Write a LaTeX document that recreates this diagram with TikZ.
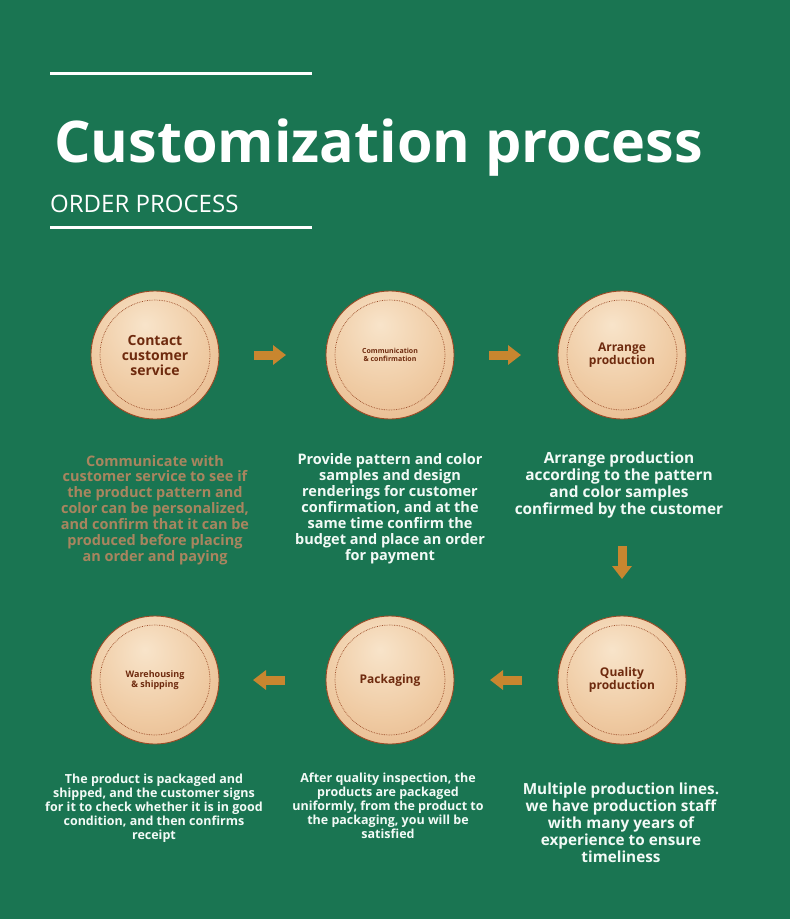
\documentclass[tikz,border=0pt]{standalone}
\usepackage{fontspec}
\setmainfont{Open Sans}
\usetikzlibrary{arrows.meta,calc}
\definecolor{bg}{HTML}{1A7552}
\definecolor{coinedge}{HTML}{9A4A26}
\definecolor{coinlbl}{HTML}{6E2A0E}
\definecolor{arr}{HTML}{C8862F}
\definecolor{tan}{HTML}{A8855F}
\definecolor{wtxt}{HTML}{F2FAF6}
\pgfdeclareradialshading{coinshade}{\pgfpoint{-4bp}{12bp}}{%
  color(0bp)=(rgb,255:red,248;green,228;blue,202);
  color(24bp)=(rgb,255:red,239;green,202;blue,162);
  color(42bp)=(rgb,255:red,229;green,180;blue,136);
  color(50bp)=(rgb,255:red,212;green,152;blue,108);
  color(62bp)=(rgb,255:red,205;green,144;blue,100);
  color(80bp)=(rgb,255:red,205;green,144;blue,100)}
\tikzset{
  coin/.style={circle, minimum size=128pt, inner sep=0pt, draw=coinedge, line width=0.9pt,
    shading=coinshade, text=coinlbl, font=\bfseries, align=center},
  ring/.style={draw=coinedge, densely dotted, line width=0.7pt},
  flow/.style={draw=arr, line width=9pt, -{Triangle[length=13pt,width=19pt]}},
  desc/.style={align=center, font=\bfseries, text=wtxt, inner sep=0pt},
}
\begin{document}
\begin{tikzpicture}[x=1pt,y=-1pt]
\fill[bg] (0,0) rectangle (790,919);
\useasboundingbox (0,0) rectangle (790,919);
% header
\coordinate (l1a) at (50,73); \coordinate (l1b) at (312,73);
\coordinate (l2a) at (50,227); \coordinate (l2b) at (312,227);
\draw[white, line width=3pt] (l1a) -- (l1b);
\draw[white, line width=3pt] (l2a) -- (l2b);
\node[anchor=base west, text=white, inner sep=0pt, font=\fontsize{57.5}{60}\selectfont\bfseries] (title) at (54,162) {Customization process};
\node[anchor=base west, text=white, inner sep=0pt, font=\fontsize{24}{26}\selectfont] (sub) at (50,212) {ORDER PROCESS};
% coins
\node[coin, font=\fontsize{14}{15}\selectfont\bfseries] (c1) at (155,355) {Contact\\customer\\service};
\node[coin, font=\fontsize{7}{8}\selectfont\bfseries] (c2) at (390,355) {Communication\\\& confirmation};
\node[coin, font=\fontsize{12}{13}\selectfont\bfseries] (c3) at (622,355) {Arrange\\production};
\node[coin, font=\fontsize{12}{13}\selectfont\bfseries] (c4) at (622,680) {Quality\\production};
\node[coin, font=\fontsize{12}{13}\selectfont\bfseries] (c5) at (390,680) {Packaging};
\node[coin, font=\fontsize{9}{10}\selectfont\bfseries] (c6) at (155,680) {Warehousing\\\& shipping};
\foreach \c in {c1,c2,c3,c4,c5,c6} \draw[ring] (\c.center) circle[radius=55pt];
% arrows
\coordinate (a1s) at (254,355); \coordinate (a1e) at (286,355);
\coordinate (a2s) at (489,355); \coordinate (a2e) at (521,355);
\coordinate (a3s) at (622,546); \coordinate (a3e) at (622,579);
\coordinate (a4s) at (522,680); \coordinate (a4e) at (490,680);
\coordinate (a5s) at (285,680); \coordinate (a5e) at (253,680);
\draw[flow] (a1s) -- (a1e);
\draw[flow] (a2s) -- (a2e);
\draw[flow] (a3s) -- (a3e);
\draw[flow] (a4s) -- (a4e);
\draw[flow] (a5s) -- (a5e);
% descriptions
\node[desc, text=tan, font=\fontsize{14.5}{15.9}\selectfont\bfseries] (d1) at (155,510)
 {Communicate with\\customer service to see if\\the product pattern and\\color can be personalized,\\and confirm that it can be\\produced before placing\\an order and paying};
\node[desc, font=\fontsize{14.5}{16}\selectfont\bfseries] (d2) at (390,509)
 {Provide pattern and color\\samples and design\\renderings for customer\\confirmation, and at the\\same time confirm the\\budget and place an order\\for payment};
\node[desc, font=\fontsize{15.4}{17.2}\selectfont\bfseries] (d3) at (619,485)
 {Arrange production\\according to the pattern\\and color samples\\confirmed by the customer};
\node[desc, font=\fontsize{12.5}{13.9}\selectfont\bfseries] (d4) at (154,808)
 {The product is packaged and\\shipped, and the customer signs\\for it to check whether it is in good\\condition, and then confirms\\receipt};
\node[desc, font=\fontsize{12.5}{13.9}\selectfont\bfseries] (d5) at (388,806)
 {After quality inspection, the\\products are packaged\\uniformly, from the product to\\the packaging, you will be\\satisfied};
\node[desc, font=\fontsize{15.3}{17}\selectfont\bfseries] (d6) at (621,823)
 {Multiple production lines.\\we have production staff\\with many years of\\experience to ensure\\timeliness};
\end{tikzpicture}
\end{document}
